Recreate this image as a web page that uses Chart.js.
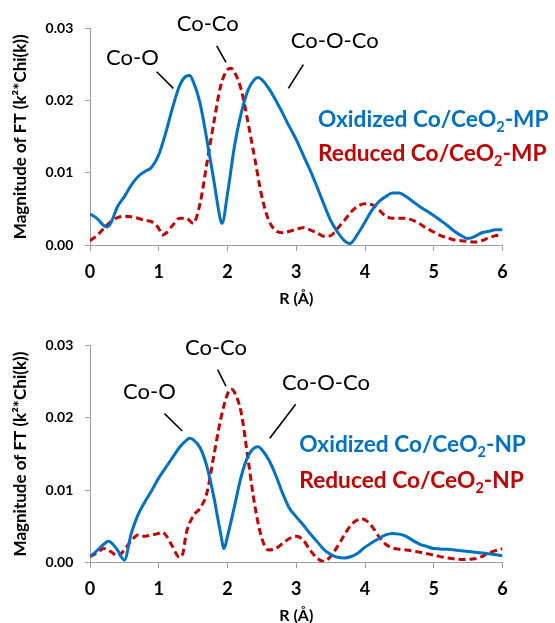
<!DOCTYPE html>
<html><head><meta charset="utf-8">
<script src="https://cdn.jsdelivr.net/npm/chart.js@4.4.1/dist/chart.umd.min.js"></script>
<style>
html,body{margin:0;padding:0;background:#fff;overflow:hidden;width:555px;height:623px;}
canvas{position:absolute;left:0;}
</style></head><body>
<canvas id="c1" width="555" height="320" style="top:0px"></canvas>
<canvas id="c2" width="555" height="320" style="top:312px"></canvas>
<script>
// ---------- data ----------
const xTicks = [0, 1, 2, 3, 4, 5, 6];
const xTickLabels = ['0', '1', '2', '3', '4', '5', '6'];
const yTicks = [0, 0.01, 0.02, 0.03];
const yTickLabels = ['0.00', '0.01', '0.02', '0.03'];
const xTitle = 'R (Å)';
const yTitle = 'Magnitude of FT (k²*Chi(k))';

// MP panel
const mpOxR = [0,0.1,0.2,0.25,0.3,0.4,0.5,0.6,0.7,0.8,0.9,1.0,1.1,1.2,1.3,1.4,1.45,1.5,1.6,1.7,1.8,1.9,1.92,2.0,2.1,2.2,2.3,2.4,2.45,2.5,2.6,2.7,2.8,2.9,3.0,3.1,3.2,3.3,3.4,3.5,3.6,3.7,3.78,3.9,4.0,4.1,4.2,4.3,4.4,4.5,4.6,4.7,4.8,4.9,5.0,5.1,5.2,5.3,5.4,5.5,5.6,5.7,5.8,5.9,6.0];
const mpOx  = [0.0043,0.0037,0.0027,0.0025,0.0030,0.0053,0.0067,0.0083,0.0095,0.0102,0.0108,0.0125,0.0155,0.0190,0.0220,0.0234,0.0235,0.0227,0.0197,0.0146,0.0090,0.0034,0.0030,0.0071,0.0136,0.0183,0.0215,0.0230,0.0232,0.0229,0.0217,0.0201,0.0183,0.0164,0.0146,0.0125,0.0104,0.0081,0.0057,0.0034,0.0018,0.0006,0.0002,0.0016,0.0032,0.0048,0.0060,0.0067,0.0072,0.0072,0.0067,0.0060,0.0053,0.0047,0.0041,0.0034,0.0027,0.0019,0.0013,0.0009,0.0012,0.0017,0.0019,0.0021,0.0021];
const mpRedR = [0,0.1,0.2,0.3,0.4,0.5,0.6,0.7,0.8,0.9,1.0,1.05,1.1,1.2,1.3,1.4,1.5,1.6,1.7,1.8,1.9,2.0,2.05,2.1,2.2,2.3,2.4,2.5,2.6,2.7,2.8,2.9,3.0,3.1,3.2,3.3,3.4,3.5,3.6,3.7,3.8,3.9,4.0,4.1,4.2,4.3,4.4,4.5,4.6,4.7,4.8,4.9,5.0,5.1,5.2,5.3,5.4,5.5,5.6,5.7,5.8,5.9,6.0];
const mpRed  = [0.0006,0.0013,0.0023,0.0032,0.0038,0.0040,0.0039,0.0037,0.0034,0.0032,0.0023,0.0014,0.0016,0.0027,0.0037,0.0037,0.0030,0.0057,0.0113,0.0169,0.0220,0.0243,0.0245,0.0240,0.0215,0.0169,0.0118,0.0067,0.0034,0.0020,0.0017,0.0019,0.0022,0.0024,0.0021,0.0017,0.0012,0.0013,0.0023,0.0034,0.0046,0.0054,0.0057,0.0056,0.0049,0.0040,0.0037,0.0037,0.0037,0.0034,0.0029,0.0023,0.0018,0.0013,0.0010,0.0007,0.0006,0.0005,0.0004,0.0006,0.0010,0.0013,0.0014];

// NP panel
const npOxR = [0,0.1,0.2,0.27,0.3,0.4,0.5,0.6,0.7,0.8,0.9,1.0,1.1,1.2,1.3,1.4,1.45,1.5,1.6,1.7,1.8,1.9,1.95,2.0,2.1,2.2,2.3,2.4,2.45,2.5,2.6,2.7,2.8,2.9,3.0,3.1,3.2,3.3,3.4,3.5,3.6,3.7,3.8,3.9,4.0,4.1,4.2,4.3,4.4,4.5,4.6,4.7,4.8,4.9,5.0,5.2,5.4,5.6,5.8,6.0];
const npOx  = [0.0008,0.0016,0.0025,0.0029,0.0028,0.0017,0.0003,0.0040,0.0066,0.0084,0.0100,0.0117,0.0131,0.0145,0.0159,0.0169,0.0172,0.0170,0.0159,0.0133,0.0091,0.0040,0.0019,0.0036,0.0077,0.0119,0.0147,0.0159,0.0160,0.0156,0.0142,0.0121,0.0096,0.0075,0.0063,0.0052,0.0040,0.0029,0.0018,0.0011,0.0007,0.0006,0.0008,0.0013,0.0021,0.0027,0.0033,0.0038,0.0040,0.0039,0.0036,0.0030,0.0025,0.0022,0.0019,0.0018,0.0016,0.0014,0.0012,0.0009];
const npRedR = [0,0.1,0.2,0.3,0.4,0.5,0.6,0.7,0.8,0.9,1.0,1.05,1.1,1.2,1.3,1.35,1.4,1.5,1.6,1.7,1.8,1.9,2.0,2.05,2.1,2.2,2.3,2.4,2.5,2.6,2.7,2.8,2.9,3.0,3.1,3.2,3.3,3.4,3.5,3.6,3.7,3.8,3.9,3.95,4.0,4.1,4.2,4.3,4.4,4.5,4.6,4.8,5.0,5.2,5.4,5.6,5.7,5.8,6.0];
const npRed  = [0.0008,0.0013,0.0019,0.0015,0.0009,0.0017,0.0030,0.0038,0.0036,0.0038,0.0040,0.0042,0.0038,0.0022,0.0007,0.0012,0.0040,0.0064,0.0075,0.0096,0.0147,0.0198,0.0233,0.0240,0.0236,0.0207,0.0142,0.0077,0.0033,0.0017,0.0019,0.0026,0.0033,0.0036,0.0031,0.0017,0.0006,0.0001,0.0008,0.0022,0.0038,0.0052,0.0059,0.0060,0.0059,0.0050,0.0036,0.0025,0.0020,0.0018,0.0017,0.0014,0.0010,0.0006,0.0004,0.0005,0.0008,0.0013,0.0019];

const mpNames = ['Oxidized Co/CeO|2|-MP', 'Reduced Co/CeO|2|-MP'];
const npNames = ['Oxidized Co/CeO|2|-NP', 'Reduced Co/CeO|2|-NP'];
const peakNames = ['Co-O', 'Co-Co', 'Co-O-Co'];

// ---------- styling / layout ----------
const BLUE = '#0070C0', RED = '#C00000', AXIS = '#a0a0a0';
const zip = (xs, ys) => xs.map((x, i) => ({x, y: ys[i]}));

const overlay = {
  id: 'overlay',
  afterDatasetsDraw(chart, args, o) {
    const {ctx, scales: {x, y}} = chart;
    const px = v => x.getPixelForValue(v), py = v => y.getPixelForValue(v);
    ctx.save();
    o.notes.forEach((n, i) => {
      ctx.font = '22px Lato';
      ctx.fillStyle = '#000';
      ctx.textAlign = 'center';
      ctx.textBaseline = 'middle';
      ctx.fillText(peakNames[i], px(n.at[0]), py(n.at[1]));
      ctx.beginPath();
      ctx.moveTo(px(n.line[0]), py(n.line[1]));
      ctx.lineTo(px(n.line[2]), py(n.line[3]));
      ctx.lineWidth = 1.6;
      ctx.strokeStyle = '#000';
      ctx.stroke();
    });
    o.names.forEach((name, i) => {
      const parts = name.split('|');
      let cx = o.legendX;
      const by = o.legendY[i];
      ctx.fillStyle = i === 0 ? BLUE : RED;
      ctx.textAlign = 'left';
      ctx.textBaseline = 'alphabetic';
      parts.forEach((p, k) => {
        const sub = k === 1;
        ctx.font = sub ? 'bold 14.5px Lato' : 'bold 22.7px Lato';
        ctx.fillText(p, cx, by + (sub ? 5 : 0));
        cx += ctx.measureText(p).width;
      });
    });
    ctx.restore();
  }
};

function makeChart(id, ox, oxR, red, redR, names, notes, g) {
  return new Chart(document.getElementById(id), {
    type: 'line',
    data: {
      datasets: [
        {data: zip(oxR, ox), borderColor: BLUE, borderWidth: 3, pointRadius: 0, cubicInterpolationMode: 'monotone', fill: false},
        {data: zip(redR, red), borderColor: RED, borderWidth: 3, borderDash: [7, 4], pointRadius: 0, cubicInterpolationMode: 'monotone', fill: false}
      ]
    },
    options: {
      responsive: false, animation: false, devicePixelRatio: 1,
      layout: {padding: {top: g.top, right: 52.5, left: 0, bottom: 0}},
      plugins: {legend: {display: false}, tooltip: {enabled: false},
        overlay: {notes, names, legendX: g.legendX, legendY: g.legendY}},
      scales: {
        x: {
          type: 'linear', min: 0, max: 6,
          afterFit: s => { s.height = g.xh; },
          afterBuildTicks: s => { s.ticks = xTicks.map(v => ({value: v})); },
          grid: {drawOnChartArea: false, drawTicks: true, tickLength: 6, color: AXIS},
          border: {display: true, color: AXIS, width: 1},
          ticks: {color: '#000', font: {family: 'Lato', size: 18, weight: 'bold'}, padding: g.xpad,
                  callback: (v, i) => xTickLabels[i], maxRotation: 0},
          title: {display: true, text: xTitle, color: '#000', font: {family: 'Lato', size: 16, weight: 'bold'},
                  padding: {top: 0, bottom: g.tpad}}
        },
        y: {
          type: 'linear', min: 0, max: 0.03,
          afterFit: s => { s.width = 90; },
          afterBuildTicks: s => { s.ticks = yTicks.map(v => ({value: v})); },
          grid: {drawOnChartArea: false, drawTicks: true, tickLength: 5, color: AXIS},
          border: {display: true, color: AXIS, width: 1},
          ticks: {color: '#000', font: {family: 'Lato', size: 14, weight: 'bold'}, padding: 11.7,
                  callback: (v, i) => yTickLabels[i]},
          title: {display: true, text: yTitle, color: '#000', font: {family: 'Lato', size: 17, weight: 'bold'},
                  padding: {top: 10.8, bottom: 0}}
        }
      }
    },
    plugins: [overlay]
  });
}

const mpNotes = [
  {at: [0.618, 0.0259], line: [0.970, 0.0240, 1.212, 0.0217]},
  {at: [1.713, 0.0306], line: [1.843, 0.0276, 1.978, 0.0253]},
  {at: [3.559, 0.0283], line: [3.103, 0.0250, 2.885, 0.0217]}
];
const npNotes = [
  {at: [0.864, 0.0236], line: [1.084, 0.0206, 1.341, 0.0182]},
  {at: [1.833, 0.0297], line: [1.857, 0.0267, 1.977, 0.0244]},
  {at: [3.433, 0.0248], line: [2.992, 0.0219, 2.615, 0.0172]}
];

makeChart('c1', mpOx, mpOxR, mpRed, mpRedR, mpNames, mpNotes,
  {top: 28.5, xh: 75, xpad: 9.9, tpad: 11.4, legendX: 318, legendY: [126.7, 160.7]});
makeChart('c2', npOx, npOxR, npRed, npRedR, npNames, npNotes,
  {top: 33.8, xh: 69.7, xpad: 10.2, tpad: 6.2, legendX: 299.3, legendY: [139.5, 176]});
</script>
</body></html>
